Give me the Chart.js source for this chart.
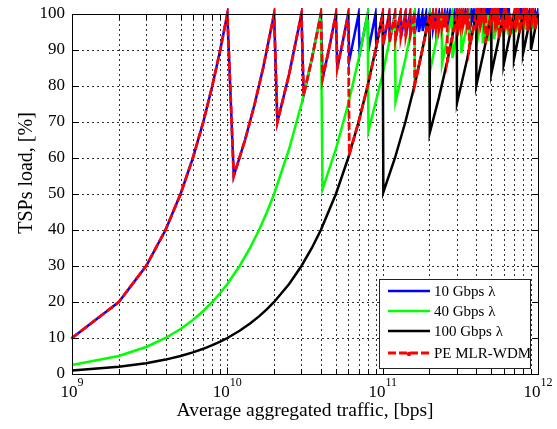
<!DOCTYPE html>
<html>
<head>
<meta charset="utf-8">
<script src="https://cdn.jsdelivr.net/npm/chart.js@4.4.1/dist/chart.umd.min.js"></script>
<style>
    html, body { margin: 0; padding: 0; background: #fff; }
    #wrap { width: 557px; height: 429px; }
</style>
</head>
<body>
<div id="wrap"><canvas id="chart" width="557" height="429"></canvas></div>
<script>
// Трафик в Гбит/с (на оси X переводится в бит/с), загрузка в %

// 10 Gbps λ
const tsp10Traffic = [
    1, 2, 3, 4, 5, 6, 7, 8, 9, 10,
    11, 13, 15, 17, 20, 21, 25, 30, 31, 35, 40, 41, 45, 50, 51, 55, 60,
    61, 70, 71, 80, 81, 90, 91, 100,
    101, 110, 111, 120, 121, 130, 131, 140, 141, 150, 151, 160, 161, 170, 171, 180, 181, 190, 191, 200,
    201, 210, 211, 220, 221, 230, 231, 240, 241, 250, 251, 260, 261, 270, 271, 280, 281, 290, 291, 300,
    301, 310, 311, 320, 321, 330, 331, 340, 341, 350, 351, 360, 361, 370, 371, 380, 381, 390, 391, 400,
    401, 410, 411, 420, 421, 430, 431, 440, 441, 450, 451, 460, 461, 470, 471, 480, 481, 490, 491, 500,
    501, 510, 511, 520, 521, 530, 531, 540, 541, 550, 551, 560, 561, 570, 571, 580, 581, 590, 591, 600,
    601, 610, 611, 620, 621, 630, 631, 640, 641, 650, 651, 660, 661, 670, 671, 680, 681, 690, 691, 700,
    701, 710, 711, 720, 721, 730, 731, 740, 741, 750, 751, 760, 761, 770, 771, 780, 781, 790, 791, 800,
    801, 810, 811, 820, 821, 830, 831, 840, 841, 850, 851, 860, 861, 870, 871, 880, 881, 890, 891, 900,
    901, 910, 911, 920, 921, 930, 931, 940, 941, 950, 951, 960, 961, 970, 971, 980, 981, 990, 991, 1000
];
const tsp10Load = [
    10, 20, 30, 40, 50, 60, 70, 80, 90, 100,
    55, 65, 75, 85, 100, 70, 83.3, 100, 77.5, 87.5, 100, 82, 90, 100, 85, 91.7, 100,
    87.1, 100, 88.8, 100, 90, 100, 91, 100,
    91.8, 100, 92.5, 100, 93.1, 100, 93.6, 100, 94, 100, 94.4, 100, 94.7, 100, 95, 100, 95.3, 100, 95.5, 100,
    95.7, 100, 95.9, 100, 96.1, 100, 96.3, 100, 96.4, 100, 96.5, 100, 96.7, 100, 96.8, 100, 96.9, 100, 97, 100,
    97.1, 100, 97.2, 100, 97.3, 100, 97.4, 100, 97.4, 100, 97.5, 100, 97.6, 100, 97.6, 100, 97.7, 100, 97.8, 100,
    97.8, 100, 97.9, 100, 97.9, 100, 98, 100, 98, 100, 98, 100, 98.1, 100, 98.1, 100, 98.2, 100, 98.2, 100,
    98.2, 100, 98.3, 100, 98.3, 100, 98.3, 100, 98.4, 100, 98.4, 100, 98.4, 100, 98.4, 100, 98.5, 100, 98.5, 100,
    98.5, 100, 98.5, 100, 98.6, 100, 98.6, 100, 98.6, 100, 98.6, 100, 98.7, 100, 98.7, 100, 98.7, 100, 98.7, 100,
    98.7, 100, 98.8, 100, 98.8, 100, 98.8, 100, 98.8, 100, 98.8, 100, 98.8, 100, 98.8, 100, 98.9, 100, 98.9, 100,
    98.9, 100, 98.9, 100, 98.9, 100, 98.9, 100, 98.9, 100, 99, 100, 99, 100, 99, 100, 99, 100, 99, 100,
    99, 100, 99, 100, 99, 100, 99, 100, 99, 100, 99.1, 100, 99.1, 100, 99.1, 100, 99.1, 100, 99.1, 100
];

// 40 Gbps λ
const tsp40Traffic = [
    1, 2, 3, 4, 5, 6, 7, 8, 9, 10, 12, 14, 16, 18, 20, 25, 30, 35, 40,
    41, 50, 60, 70, 80, 81, 100, 120, 121, 140, 160, 161, 180, 200,
    201, 240, 241, 280, 281, 320, 321, 360, 361, 400, 401, 440, 441, 480, 481, 520,
    521, 560, 561, 600, 601, 640, 641, 680, 681, 720, 721, 760, 761, 800,
    801, 840, 841, 880, 881, 920, 921, 960, 961, 1000
];
const tsp40Load = [
    2.5, 5, 7.5, 10, 12.5, 15, 17.5, 20, 22.5, 25, 30, 35, 40, 45, 50, 62.5, 75, 87.5, 100,
    51.3, 62.5, 75, 87.5, 100, 67.5, 83.3, 100, 75.6, 87.5, 100, 80.5, 90, 100,
    83.8, 100, 86.1, 100, 87.8, 100, 89.2, 100, 90.3, 100, 91.1, 100, 91.9, 100, 92.5, 100,
    93, 100, 93.5, 100, 93.9, 100, 94.3, 100, 94.6, 100, 94.9, 100, 95.1, 100,
    95.4, 100, 95.6, 100, 95.8, 100, 95.9, 100, 96.1, 100
];

// 100 Gbps λ
const tsp100Traffic = [
    1, 2, 3, 4, 5, 6, 7, 8, 9, 10, 12, 14, 16, 18, 20, 25, 30, 35, 40, 50, 60, 70, 80, 90, 100,
    101, 120, 140, 160, 180, 200, 201, 230, 260, 300, 301, 350, 400, 401, 450, 500,
    501, 550, 600, 601, 650, 700, 701, 750, 800, 801, 850, 900, 901, 950, 1000
];
const tsp100Load = [
    1, 2, 3, 4, 5, 6, 7, 8, 9, 10, 12, 14, 16, 18, 20, 25, 30, 35, 40, 50, 60, 70, 80, 90, 100,
    50.5, 60, 70, 80, 90, 100, 67, 76.7, 86.7, 100, 75.3, 87.5, 100, 80.2, 90, 100,
    83.5, 91.7, 100, 85.9, 92.9, 100, 87.6, 93.8, 100, 89, 94.4, 100, 90.1, 95, 100
];

// PE MLR-WDM
const peTraffic = [
    1, 2, 3, 4, 5, 6, 7, 8, 9, 10,
    11, 13, 15, 17, 20, 21, 25, 30, 31, 35, 40, 41, 45, 50, 51, 55, 60,
    61, 70, 80, 90, 100,
    101, 110, 111, 120, 121, 130, 131, 140, 141, 150, 151, 160, 161, 170, 180, 190, 200,
    201, 210, 211, 220, 221, 230, 231, 240, 241, 250, 251, 260, 261, 280, 300,
    301, 310, 311, 320, 321, 330, 331, 340, 341, 350, 351, 360, 361, 380, 400,
    401, 410, 411, 420, 421, 430, 431, 440, 441, 450, 451, 460, 461, 500,
    501, 510, 511, 520, 521, 530, 531, 540, 541, 550, 551, 560, 561, 600,
    601, 610, 611, 620, 621, 630, 631, 640, 641, 650, 651, 660, 661, 700,
    701, 710, 711, 720, 721, 730, 731, 740, 741, 750, 751, 760, 761, 800,
    801, 810, 811, 820, 821, 830, 831, 840, 841, 850, 851, 860, 861, 900,
    901, 910, 911, 920, 921, 930, 931, 940, 941, 950, 951, 960, 961, 1000
];
const peLoad = [
    10, 20, 30, 40, 50, 60, 70, 80, 90, 100,
    55, 65, 75, 85, 100, 70, 83.3, 100, 77.5, 87.5, 100, 82, 90, 100, 85, 91.7, 100,
    61, 70, 80, 90, 100,
    91.8, 100, 92.5, 100, 93.1, 100, 93.6, 100, 94, 100, 94.4, 100, 80.5, 85, 90, 95, 100,
    95.7, 100, 95.9, 100, 96.1, 100, 96.3, 100, 96.4, 100, 96.5, 100, 87, 93.3, 100,
    97.1, 100, 97.2, 100, 97.3, 100, 97.4, 100, 97.4, 100, 97.5, 100, 90.3, 95, 100,
    97.8, 100, 97.9, 100, 97.9, 100, 98, 100, 98, 100, 98, 100, 92.2, 100,
    98.2, 100, 98.3, 100, 98.3, 100, 98.3, 100, 98.4, 100, 98.4, 100, 93.5, 100,
    98.5, 100, 98.5, 100, 98.6, 100, 98.6, 100, 98.6, 100, 98.6, 100, 94.4, 100,
    98.7, 100, 98.8, 100, 98.8, 100, 98.8, 100, 98.8, 100, 98.8, 100, 95.1, 100,
    98.9, 100, 98.9, 100, 98.9, 100, 98.9, 100, 98.9, 100, 99, 100, 95.7, 100,
    99, 100, 99, 100, 99, 100, 99, 100, 99, 100, 99.1, 100, 96.1, 100
];

// Подписи осей
const yTicks = [0, 10, 20, 30, 40, 50, 60, 70, 80, 90, 100];
const xDecades = [9, 10, 11, 12];
const xTitle = 'Average aggregated traffic, [bps]';
const yTitle = 'TSPs load, [%]';

const FONT = "'Liberation Serif', 'Times New Roman', serif";

// Точки {x, y}: Гбит/с -> бит/с
function toPoints(traffic, load) {
    return traffic.map((t, i) => ({ x: t * 1e9, y: load[i] }));
}

// Позиции вертикальной сетки: 1..9 x 10^n
function xGridValues() {
    const vals = [];
    for (let e = 9; e < 12; e++) {
        for (let m = 1; m < 10; m++) vals.push(m * Math.pow(10, e));
    }
    vals.push(1e12);
    return vals;
}

// Сетка, рамка, подписи и легенда рисуются вручную (стиль MATLAB)
const axisDecor = {
    id: 'axisDecor',
    beforeDatasetsDraw(chart) {
        const { ctx, chartArea: a, scales: { x, y } } = chart;
        ctx.save();
        ctx.strokeStyle = '#333';
        ctx.lineWidth = 1;
        ctx.setLineDash([2, 3]);
        ctx.beginPath();
        xGridValues().forEach(v => {
            const px = Math.round(x.getPixelForValue(v)) + 0.5;
            ctx.moveTo(px, a.top);
            ctx.lineTo(px, a.bottom);
        });
        yTicks.forEach(v => {
            const py = Math.round(y.getPixelForValue(v)) + 0.5;
            ctx.moveTo(a.left, py);
            ctx.lineTo(a.right, py);
        });
        ctx.stroke();
        ctx.restore();
    },
    afterDraw(chart) {
        const { ctx, chartArea: a, scales: { x, y } } = chart;
        ctx.save();
        ctx.setLineDash([]);
        ctx.strokeStyle = '#000';
        ctx.lineWidth = 1;

        // рамка
        const L = Math.round(a.left) + 0.5, R = Math.round(a.right) + 0.5;
        const T = Math.round(a.top) + 0.5, B = Math.round(a.bottom) + 0.5;
        ctx.strokeRect(L, T, R - L, B - T);

        // засечки внутрь
        ctx.beginPath();
        xGridValues().forEach(v => {
            const px = Math.round(x.getPixelForValue(v)) + 0.5;
            const len = Number.isInteger(Math.log10(v)) ? 7 : 5;
            ctx.moveTo(px, B); ctx.lineTo(px, B - len);
            ctx.moveTo(px, T); ctx.lineTo(px, T + len);
        });
        yTicks.forEach(v => {
            const py = Math.round(y.getPixelForValue(v)) + 0.5;
            ctx.moveTo(L, py); ctx.lineTo(L + 6, py);
            ctx.moveTo(R, py); ctx.lineTo(R - 6, py);
        });
        ctx.stroke();

        ctx.fillStyle = '#000';
        // подписи Y
        ctx.font = `17px ${FONT}`;
        ctx.textAlign = 'right';
        ctx.textBaseline = 'middle';
        yTicks.forEach(v => ctx.fillText(String(v), 65, y.getPixelForValue(v)));

        // подписи X: 10 с показателем степени
        ctx.textAlign = 'left';
        ctx.textBaseline = 'alphabetic';
        xDecades.forEach(e => {
            const px = x.getPixelForValue(Math.pow(10, e));
            ctx.font = `17px ${FONT}`;
            const w1 = ctx.measureText('10').width;
            ctx.font = `12px ${FONT}`;
            const w2 = ctx.measureText(String(e)).width;
            const start = px - (w1 + w2) / 2;
            ctx.font = `17px ${FONT}`;
            ctx.fillText('10', start, 397);
            ctx.font = `12px ${FONT}`;
            ctx.fillText(String(e), start + w1, 386);
        });

        // названия осей
        ctx.textAlign = 'center';
        ctx.textBaseline = 'middle';
        ctx.font = `19.5px ${FONT}`;
        ctx.fillText(xTitle, (a.left + a.right) / 2, 411);
        ctx.font = `20px ${FONT}`;
        ctx.translate(27, 173);
        ctx.rotate(-Math.PI / 2);
        ctx.fillText(yTitle, 0, 0);
        ctx.restore();

        this._drawLegend(chart);
    },
    _drawLegend(chart) {
        const { ctx } = chart;
        const box = { x: 379.5, y: 279.5, w: 151, h: 89 };
        const rows = [291, 311, 331, 353];
        ctx.save();
        ctx.fillStyle = '#fff';
        ctx.fillRect(box.x, box.y, box.w, box.h);
        ctx.strokeStyle = '#222';
        ctx.lineWidth = 1;
        ctx.strokeRect(box.x, box.y, box.w, box.h);
        ctx.font = `15px ${FONT}`;
        ctx.textAlign = 'left';
        ctx.textBaseline = 'middle';
        chart.data.datasets.forEach((ds, i) => {
            const yy = rows[i];
            ctx.strokeStyle = ds.borderColor;
            ctx.lineWidth = ds.borderWidth;
            ctx.setLineDash(ds.borderDash || []);
            ctx.beginPath();
            ctx.moveTo(388, yy);
            ctx.lineTo(430, yy);
            ctx.stroke();
            if (ds.pointRadius) {
                ctx.fillStyle = ds.borderColor;
                ctx.beginPath();
                ctx.arc(409, yy + 1, 2.2, 0, Math.PI * 2);
                ctx.fill();
            }
            ctx.fillStyle = '#000';
            ctx.fillText(ds.label, 434, yy + 1);
        });
        ctx.restore();
    }
};

class LoadChartRenderer {
    constructor(canvasId) {
        this.canvas = document.getElementById(canvasId);
        this.chartInstance = null;
    }

    _datasets() {
        // order: меньшее значение рисуется поверх
        return [
            { label: '10 Gbps λ', data: toPoints(tsp10Traffic, tsp10Load), borderColor: '#0000ff', borderWidth: 2.5, pointRadius: 0, order: 3 },
            { label: '40 Gbps λ', data: toPoints(tsp40Traffic, tsp40Load), borderColor: '#00ff00', borderWidth: 2.5, pointRadius: 0, order: 2 },
            { label: '100 Gbps λ', data: toPoints(tsp100Traffic, tsp100Load), borderColor: '#000000', borderWidth: 2.5, pointRadius: 0, order: 1 },
            {
                label: 'PE MLR-WDM', data: toPoints(peTraffic, peLoad), borderColor: '#ff0000', borderWidth: 2.8,
                borderDash: [8, 3], pointRadius: 1.3, pointBackgroundColor: '#ff0000', pointBorderWidth: 0, order: 0
            }
        ];
    }

    render() {
        this.chartInstance = new Chart(this.canvas, {
            type: 'line',
            data: { datasets: this._datasets().map(d => ({ ...d, tension: 0, fill: false, clip: 6 })) },
            options: {
                responsive: false,
                animation: false,
                layout: { padding: { left: 72, right: 19, top: 14, bottom: 55 } },
                scales: {
                    x: { type: 'logarithmic', min: 1e9, max: 1e12, display: false },
                    y: { type: 'linear', min: 0, max: 100, display: false }
                },
                plugins: { legend: { display: false }, tooltip: { enabled: false } }
            },
            plugins: [axisDecor]
        });
        return this.chartInstance;
    }
}

new LoadChartRenderer('chart').render();
</script>
</body>
</html>
